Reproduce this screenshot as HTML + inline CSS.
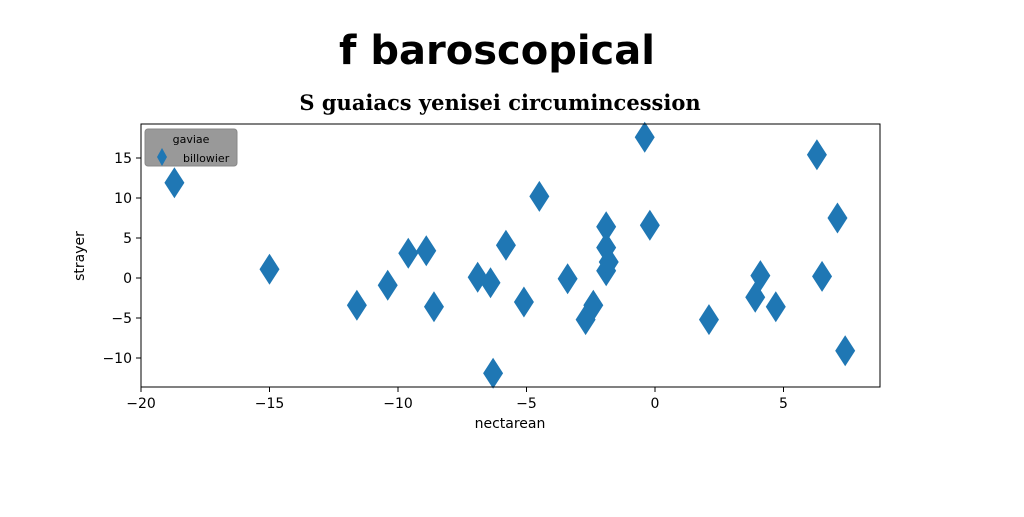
<!DOCTYPE html>
<html><head><meta charset="utf-8"><style>
body{margin:0;background:#fff;width:1024px;height:512px;overflow:hidden}
</style></head><body>
<svg width="1024" height="512" xmlns="http://www.w3.org/2000/svg" font-family="DejaVu Sans, sans-serif">
<text x="497" y="64" text-anchor="middle" font-family="Comic Sans MS, DejaVu Sans, sans-serif" font-weight="bold" font-size="40">f baroscopical</text>
<text x="500" y="110" text-anchor="middle" font-family="DejaVu Serif, serif" font-weight="bold" font-size="21">S guaiacs yenisei circumincession</text>
<g id="marks"></g>
<rect x="141" y="124" width="739" height="263" fill="none" stroke="#000" stroke-width="1"/>
<g id="xt"></g><g id="yt"></g>
<text x="510" y="428" text-anchor="middle" font-size="14">nectarean</text>
<text transform="translate(84,256) rotate(-90)" text-anchor="middle" font-size="14">strayer</text>
<g>
<rect x="145" y="129" width="92" height="37" rx="3" fill="#999" stroke="#888"/>
<text x="191" y="143" text-anchor="middle" font-size="11">gaviae</text>
<polygon points="162,148 167,157 162,166 157,157" fill="#1f77b4"/>
<text x="183" y="162" font-size="11">billowier</text>
</g>
</svg>
<script>
const xs=[-18.7,-15.0,-11.6,-10.4,-9.6,-8.9,-8.6,-6.9,-6.4,-6.3,-5.8,-5.1,-4.5,-3.4,-2.7,-2.4,-1.9,-1.9,-1.9,-1.8,-0.4,-0.2,2.1,3.9,4.1,4.7,6.3,6.5,7.1,7.4];
const ys=[11.9,1.1,-3.4,-0.9,3.1,3.4,-3.6,0.1,-0.6,-11.9,4.1,-3.0,10.2,-0.1,-5.2,-3.4,6.4,3.8,0.9,2.0,17.6,6.6,-5.2,-2.4,0.3,-3.6,15.4,0.2,7.5,-9.1];
const xTicks=[-20,-15,-10,-5,0,5];
const yTicks=[-10,-5,0,5,10,15];
const X=v=>655+v*25.7, Y=v=>278-v*8;
const NS="http://www.w3.org/2000/svg";
const m=document.getElementById('marks');
xs.forEach((x,i)=>{const p=document.createElementNS(NS,'polygon');const cx=X(x),cy=Y(ys[i]);
p.setAttribute('points',`${cx},${cy-15.5} ${cx+10},${cy} ${cx},${cy+15.5} ${cx-10},${cy}`);
p.setAttribute('fill','#1f77b4');


m.appendChild(p);});
const xt=document.getElementById('xt');
xTicks.forEach(t=>{const g=document.createElementNS(NS,'g');


g.innerHTML=`<line x1="${X(t)}" x2="${X(t)}" y1="387" y2="392" stroke="#000"/><text x="${X(t)}" y="408" text-anchor="middle" font-size="14">${t<0?'\u2212'+(-t):t}</text>`;xt.appendChild(g);});
const yt=document.getElementById('yt');
yTicks.forEach(t=>{const g=document.createElementNS(NS,'g');


g.innerHTML=`<line x1="136" x2="141" y1="${Y(t)}" y2="${Y(t)}" stroke="#000"/><text x="132" y="${Y(t)+5}" text-anchor="end" font-size="14">${t<0?'\u2212'+(-t):t}</text>`;yt.appendChild(g);});
</script>
</body></html>
